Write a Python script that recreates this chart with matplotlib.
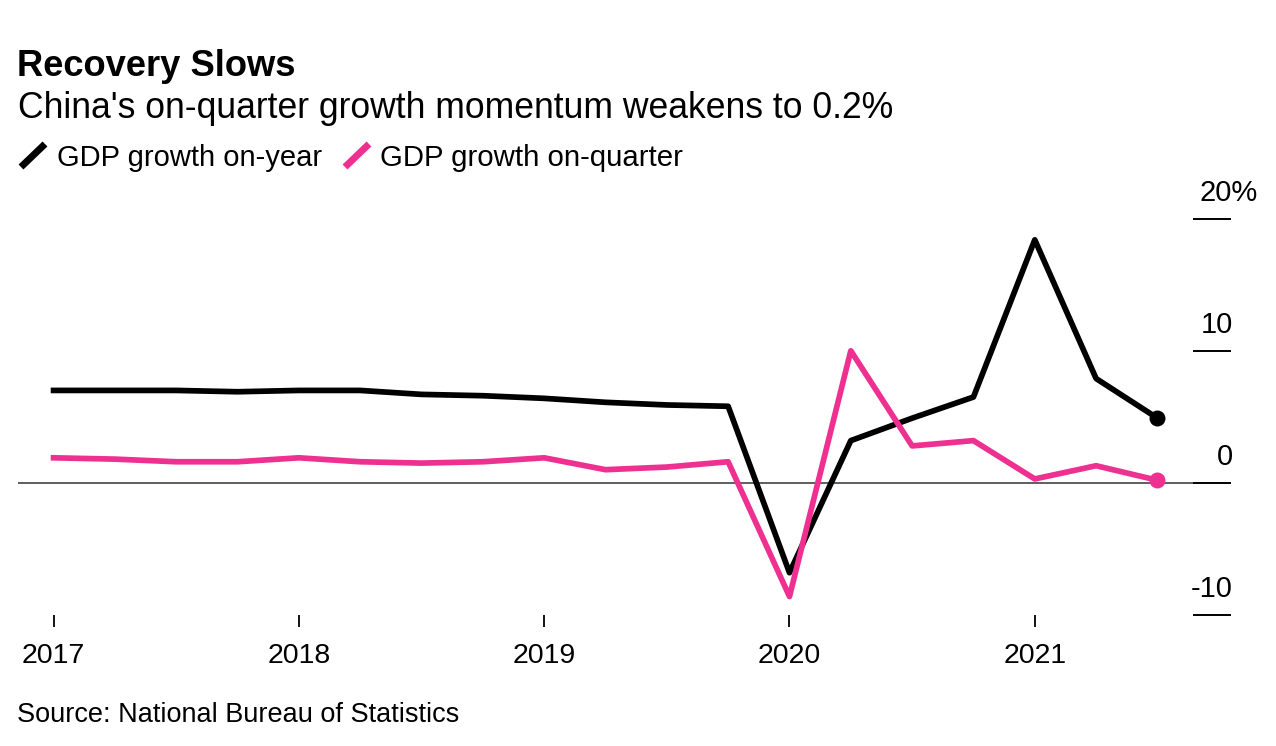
import matplotlib
matplotlib.use('Agg')
import matplotlib.pyplot as plt
from matplotlib.lines import Line2D

plt.rcParams['font.family'] = ['Liberation Sans', 'DejaVu Sans']

# Quarterly data
quarters = [2017 + i * 0.25 for i in range(19)]
gdp_year = [7.0, 7.0, 7.0, 6.9, 7.0, 7.0, 6.7, 6.6, 6.4, 6.1, 5.9, 5.8,
            -6.8, 3.2, 4.9, 6.5, 18.4, 7.9, 4.9]
gdp_quarter = [1.9, 1.8, 1.6, 1.6, 1.9, 1.6, 1.5, 1.6, 1.9, 1.0, 1.2, 1.6,
               -8.6, 10.0, 2.8, 3.2, 0.3, 1.3, 0.2]
year_ticks = [2017, 2018, 2019, 2020, 2021]
y_ticks = [-10, 0, 10, 20]
y_labels = ['-10', '0', '10', '20%']

BLACK = '#000000'
PINK = '#ee3190'
W, H = 1276, 746

fig = plt.figure(figsize=(W / 100, H / 100), dpi=100)
ax = fig.add_axes([18 / W, 1 - 615 / H, (1193 - 18) / W, (615 - 218.7) / H])

ax.plot(quarters, gdp_year, color=BLACK, lw=4.1, solid_joinstyle='round', zorder=3)
ax.plot(quarters, gdp_quarter, color=PINK, lw=4.1, solid_joinstyle='round', zorder=4)
ax.plot(quarters[-1], gdp_year[-1], 'o', color=BLACK, ms=11.5, mew=0, zorder=5)
ax.plot(quarters[-1], gdp_quarter[-1], 'o', color=PINK, ms=11.5, mew=0, zorder=5)
ax.axhline(0, color='#333333', lw=1.1, zorder=2)

ax.set_xlim(2016.855, 2021.645)
ax.set_ylim(-10, 20)
for s in ax.spines.values():
    s.set_visible(False)

ax.set_xticks(year_ticks)
ax.set_xticklabels([str(y) for y in year_ticks], fontsize=20.5, color=BLACK)
ax.tick_params(axis='x', length=8.6, width=1.3, color=BLACK, pad=11.7)

ax.yaxis.tick_right()
ax.set_yticks(y_ticks)
ax.set_yticklabels([])
ax.tick_params(axis='y', length=27.4, width=1.4, color=BLACK, pad=0)
for v, lab in zip(y_ticks, y_labels):
    ax.annotate(lab, xy=(1, v), xycoords=ax.get_yaxis_transform(),
                xytext=(28.5 if lab != '20%' else 46.5, 8.5), textcoords='offset points',
                ha='right', va='bottom', fontsize=21, color=BLACK)

# Header, legend, footer in pixel positions
def put(x, y, s, **kw):
    fig.text(x / W, 1 - y / H, s, color=BLACK, va='baseline', **kw)

put(17, 76, 'Recovery Slows', fontsize=26.2, fontweight='bold')
put(18, 118, "China's on-quarter growth momentum weakens to 0.2%", fontsize=25.6)
put(57, 166, 'GDP growth on-year', fontsize=21)
put(380, 166, 'GDP growth on-quarter', fontsize=21.2)
put(17, 722, 'Source: National Bureau of Statistics', fontsize=19.5)

for x0, c in [(21, BLACK), (345, PINK)]:
    fig.add_artist(Line2D([x0 / W, (x0 + 24) / W], [1 - 167 / H, 1 - 144 / H],
                          color=c, lw=5, solid_capstyle='butt'))

fig.savefig('out.png', dpi=100)
